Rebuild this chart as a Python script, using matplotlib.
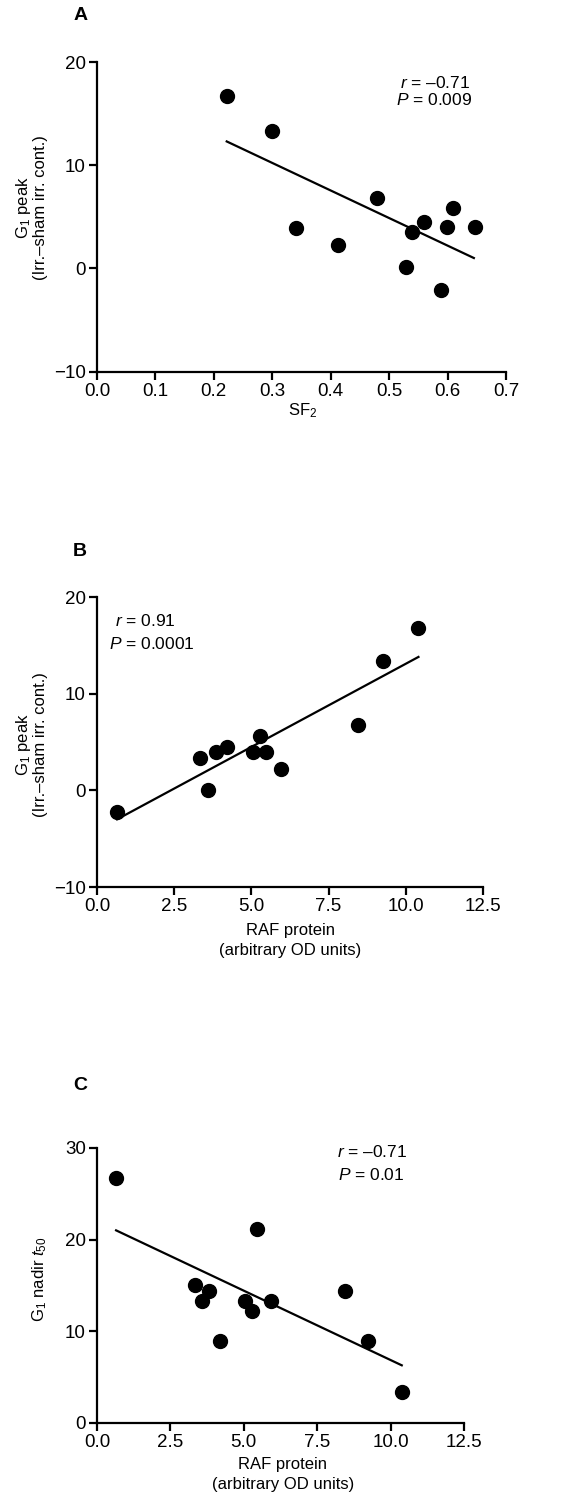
import numpy as np
import matplotlib
matplotlib.use('Agg')
import matplotlib.pyplot as plt

plt.rcParams['font.family'] = ['Liberation Sans', 'DejaVu Sans']
plt.rcParams['mathtext.fontset'] = 'custom'
plt.rcParams['mathtext.rm'] = 'Liberation Sans'
plt.rcParams['mathtext.it'] = 'Liberation Sans:italic'
plt.rcParams['mathtext.bf'] = 'Liberation Sans:bold'

# panel A: G1 peak vs SF2
sf2 = [0.222, 0.300, 0.341, 0.412, 0.480, 0.529, 0.539, 0.560, 0.589, 0.599, 0.609, 0.647]
g1_peak_a = [16.7, 13.3, 3.95, 2.3, 6.8, 0.1, 3.5, 4.5, -2.1, 4.05, 5.8, 4.05]
fit_a_x = [0.222, 0.645]
fit_a_y = [12.3, 1.0]

# panel B: G1 peak vs RAF protein
raf_b = [0.65, 3.34, 3.59, 3.84, 4.20, 5.05, 5.29, 5.46, 5.95, 8.46, 9.27, 10.41]
g1_peak_b = [-2.2, 3.35, 0.05, 3.95, 4.45, 3.95, 5.65, 3.95, 2.25, 6.8, 13.4, 16.8]
fit_b_x = [0.65, 10.41]
fit_b_y = [-3.0, 13.8]

# panel C: G1 nadir t50 vs RAF protein
raf_c = [0.65, 3.34, 3.58, 3.83, 4.19, 5.03, 5.28, 5.44, 5.94, 8.44, 9.23, 10.38]
t50_c = [26.7, 15.0, 13.3, 14.4, 8.9, 13.3, 12.2, 21.1, 13.3, 14.4, 8.9, 3.3]
fit_c_x = [0.65, 10.38]
fit_c_y = [21.0, 6.25]

W, H = 576, 1493
fig = plt.figure(figsize=(W / 100, H / 100), dpi=100)

TICK_FS = 13.5
TXT_FS = 12.5
LAB_FS = 12


def px_axes(left, top, right, bottom):
    return fig.add_axes([left / W, 1 - bottom / H, (right - left) / W, (bottom - top) / H])


def style(ax):
    for s in ['top', 'right']:
        ax.spines[s].set_visible(False)
    for s in ['left', 'bottom']:
        ax.spines[s].set_linewidth(1.6)
    ax.tick_params(direction='out', length=6, width=1.6, labelsize=TICK_FS, pad=2)


def ftext(x, y, s, **kw):
    fig.text(x / W, 1 - y / H, s, ha='center', va='center', **kw)


# A
ax = px_axes(97, 62, 506, 371.5)
ax.scatter(sf2, g1_peak_a, s=100, color='black', zorder=3, clip_on=False)
ax.plot(fit_a_x, fit_a_y, color='black', lw=1.6)
ax.set_xlim(0, 0.7)
ax.set_ylim(-10, 20)
ax.set_xticks([0.0, 0.1, 0.2, 0.3, 0.4, 0.5, 0.6, 0.7])
ax.set_xticklabels(['0.0', '0.1', '0.2', '0.3', '0.4', '0.5', '0.6', '0.7'])
ax.set_yticks([-10, 0, 10, 20])
style(ax)
ax.text(0.639, 18.0, '$\\it{r}$ = –0.71', ha='right', va='center', fontsize=TXT_FS)
ax.text(0.642, 16.35, '$\\it{P}$ = 0.009', ha='right', va='center', fontsize=TXT_FS)
ftext(81, 16, 'A', fontsize=14, fontweight='bold')
ftext(303, 411, 'SF$_2$', fontsize=LAB_FS)
ftext(31, 208, 'G$_1$ peak\n(Irr.–sham irr. cont.)', fontsize=LAB_FS, rotation=90, linespacing=1.0)

# B
ax = px_axes(97, 597, 483, 887)
ax.scatter(raf_b, g1_peak_b, s=100, color='black', zorder=3, clip_on=False)
ax.plot(fit_b_x, fit_b_y, color='black', lw=1.6)
ax.set_xlim(0, 12.5)
ax.set_ylim(-10, 20)
ax.set_xticks([0.0, 2.5, 5.0, 7.5, 10.0, 12.5])
ax.set_xticklabels(['0.0', '2.5', '5.0', '7.5', '10.0', '12.5'])
ax.set_yticks([-10, 0, 10, 20])
style(ax)
ax.text(0.57, 17.5, '$\\it{r}$ = 0.91', ha='left', va='center', fontsize=TXT_FS)
ax.text(0.40, 15.1, '$\\it{P}$ = 0.0001', ha='left', va='center', fontsize=TXT_FS)
ftext(80, 552, 'B', fontsize=14, fontweight='bold')
ftext(290, 931, 'RAF protein', fontsize=LAB_FS)
ftext(290, 951, '(arbitrary OD units)', fontsize=LAB_FS)
ftext(31, 745, 'G$_1$ peak\n(Irr.–sham irr. cont.)', fontsize=LAB_FS, rotation=90, linespacing=1.0)

# C
ax = px_axes(97, 1148, 464, 1422.5)
ax.scatter(raf_c, t50_c, s=100, color='black', zorder=3, clip_on=False)
ax.plot(fit_c_x, fit_c_y, color='black', lw=1.6)
ax.set_xlim(0, 12.5)
ax.set_ylim(0, 30)
ax.set_xticks([0.0, 2.5, 5.0, 7.5, 10.0, 12.5])
ax.set_xticklabels(['0.0', '2.5', '5.0', '7.5', '10.0', '12.5'])
ax.set_yticks([0, 10, 20, 30])
style(ax)
ax.text(8.16, 29.6, '$\\it{r}$ = –0.71', ha='left', va='center', fontsize=TXT_FS)
ax.text(8.2, 27.1, '$\\it{P}$ = 0.01', ha='left', va='center', fontsize=TXT_FS)
ftext(80, 1085, 'C', fontsize=14, fontweight='bold')
ftext(283, 1465, 'RAF protein', fontsize=LAB_FS)
ftext(283, 1485, '(arbitrary OD units)', fontsize=LAB_FS)
ftext(40, 1279, 'G$_1$ nadir $\\it{t}_{50}$', fontsize=LAB_FS, rotation=90)

fig.savefig('out.png', dpi=100)
